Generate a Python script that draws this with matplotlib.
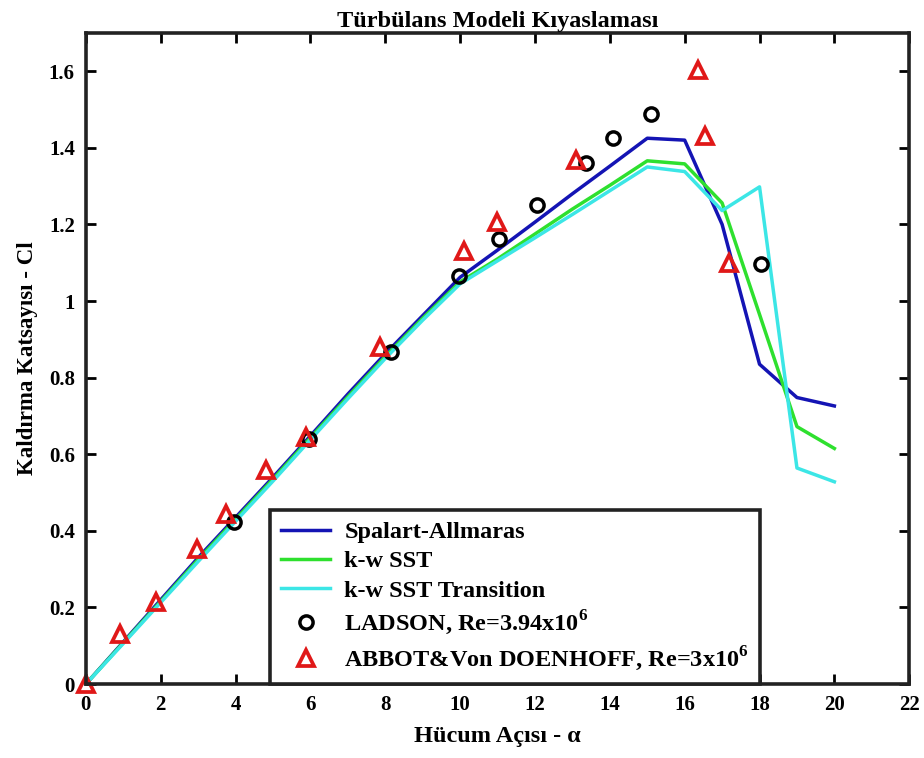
import numpy as np
import matplotlib
matplotlib.use('Agg')
import matplotlib.pyplot as plt
from matplotlib.ticker import FuncFormatter

plt.rcParams['font.family'] = ['Liberation Serif', 'DejaVu Serif']
plt.rcParams['font.weight'] = 'bold'
plt.rcParams['mathtext.fontset'] = 'custom'
plt.rcParams['mathtext.rm'] = 'Liberation Serif:bold'
plt.rcParams['mathtext.bf'] = 'Liberation Serif:bold'

# hucum acisi (derece)
alpha = [0, 1, 2, 3, 4, 5, 6, 7, 8, 9, 10, 11, 12, 13, 14, 15, 16, 17, 18, 19, 20]

# CFD sonuclari - Cl
cl_sa = [0, 0.11, 0.22, 0.33, 0.435, 0.54, 0.648, 0.757, 0.862, 0.962, 1.062,
         1.133, 1.206, 1.28, 1.352, 1.425, 1.42, 1.2, 0.835, 0.748, 0.726]
cl_sst = [0, 0.108, 0.216, 0.325, 0.43, 0.535, 0.643, 0.75, 0.855, 0.955, 1.05,
          1.11, 1.175, 1.24, 1.302, 1.366, 1.358, 1.256, 0.965, 0.672, 0.615]
cl_trans = [0, 0.106, 0.213, 0.32, 0.425, 0.53, 0.638, 0.745, 0.85, 0.95, 1.045,
            1.105, 1.165, 1.226, 1.288, 1.35, 1.338, 1.236, 1.298, 0.564, 0.528]

# deney verileri
ladson_a = [3.95, 5.97, 8.15, 9.98, 11.04, 12.06, 13.37, 14.08, 15.1, 18.05]
ladson_cl = [0.423, 0.64, 0.867, 1.065, 1.162, 1.251, 1.36, 1.425, 1.488, 1.097]
abbot_a = [0, 0.91, 1.86, 2.97, 3.74, 4.8, 5.88, 7.86, 10.1, 10.99, 13.1, 16.36, 16.55, 17.19]
abbot_cl = [0, 0.13, 0.215, 0.352, 0.444, 0.558, 0.645, 0.88, 1.13, 1.206, 1.368, 1.603, 1.43, 1.1]

fig = plt.figure(figsize=(9.24, 7.58), dpi=100)
ax = fig.add_axes([0.093, 0.0976, 0.891, 0.859])

ax.plot(alpha, cl_sa, color='#1414b4', lw=2.5, label='Spalart-Allmaras')
ax.plot(alpha, cl_sst, color='#2ee02e', lw=2.5, label='k-w SST')
ax.plot(alpha, cl_trans, color='#3ce6e6', lw=2.5, label='k-w SST Transition')
ax.plot(ladson_a, ladson_cl, 'o', ls='none', mfc='none', mec='black', ms=9.5, mew=2.5,
        label=r'LADSON, Re=3.94x10$^{6}$', clip_on=False)
ax.plot(abbot_a, abbot_cl, '^', ls='none', mfc='none', mec='#e01818', ms=12, mew=2.7,
        label=r'ABBOT&Von DOENHOFF, Re=3x10$^{6}$', clip_on=False)

ax.set_xlim(0, 22)
ax.set_ylim(0, 1.7)
ax.set_xticks(np.arange(0, 23, 2))
ax.set_yticks(np.arange(0, 1.61, 0.2))
ax.yaxis.set_major_formatter(FuncFormatter(lambda v, p: f'{v:g}'))
ax.tick_params(direction='in', length=7, width=2, top=True, right=True,
               labelsize=15)
ax.tick_params(axis='x', pad=8)
ax.tick_params(axis='y', pad=8)
for s in ax.spines.values():
    s.set_linewidth(2.6)
    s.set_color('#222222')

ax.set_title('Türbülans Modeli Kıyaslaması', fontsize=17.5, fontweight='bold', pad=4)
ax.set_xlabel('Hücum Açısı - α', fontsize=17.5, fontweight='bold', labelpad=8)
ax.set_ylabel('Kaldırma Katsayısı - Cl', fontsize=16.5, fontweight='bold', labelpad=8)

leg = ax.legend(loc='lower left', bbox_to_anchor=(0.224, 0.0), fontsize=17.5,
                fancybox=False, framealpha=1, edgecolor='#222222',
                handlelength=2.0, handletextpad=0.6, labelspacing=0.3,
                borderaxespad=0, borderpad=0.45)
leg.get_frame().set_linewidth(2.6)

fig.savefig('out.png', dpi=100)
